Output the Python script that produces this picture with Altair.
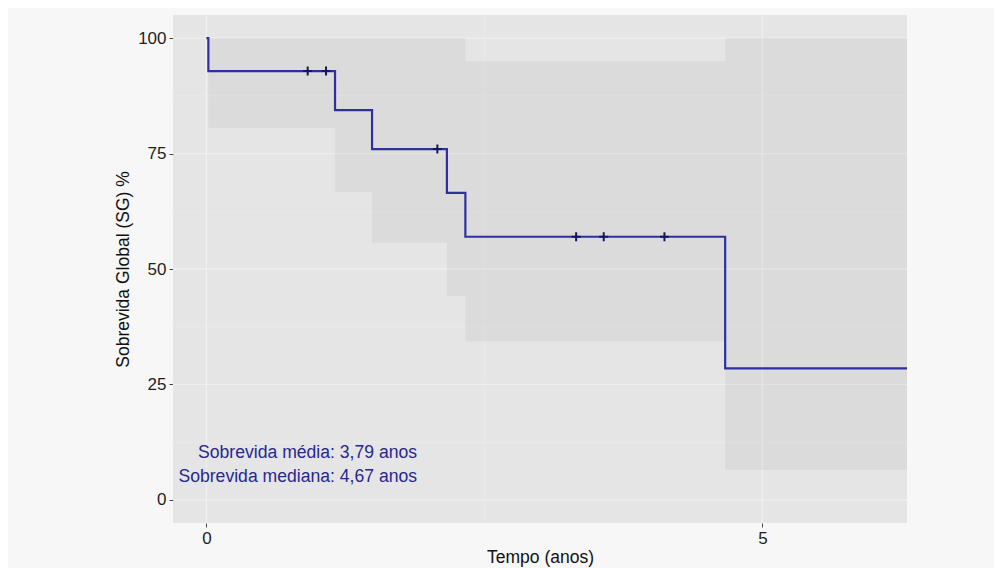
import altair as alt
import pandas as pd

# Kaplan-Meier estimate (%), step-after
km_time = [0, 0.018, 1.157, 1.49, 2.163, 2.329, 4.665, 6.3]
km_surv = [100, 92.86, 84.42, 75.97, 66.48, 56.98, 28.49, 28.49]

# confidence band
ci_time = [0.018, 1.157, 1.49, 2.163, 2.329, 4.665, 6.3]
ci_lower = [80.6, 66.7, 55.7, 44.2, 34.3, 6.5, 6.5]
ci_upper = [100, 100, 100, 100, 95.0, 100, 100]

# censored observations
cens_time = [0.911, 1.076, 2.077, 3.325, 3.573, 4.119]
cens_surv = [92.86, 92.86, 75.97, 56.98, 56.98, 56.98]

x_ticks = [0, 5]
y_ticks = [0, 25, 50, 75, 100]
x_minor = [2.5]
y_minor = [12.5, 37.5, 62.5, 87.5]

labels = ["Sobrevida média: 3,79 anos", "Sobrevida mediana: 4,67 anos"]
label_x = [1.895, 1.895]
label_y = [10.25, 4.86]

FONT = "Liberation Sans"
LINE = "#2f2fa0"
TEXT = "#28288e"

xs = alt.Scale(domain=[-0.3, 6.3], nice=False, zero=False)
ys = alt.Scale(domain=[-5, 105], nice=False, zero=False)
xax = alt.Axis(values=x_ticks, format="d", title="Tempo (anos)", titlePadding=2)
yax = alt.Axis(values=y_ticks, format="d", title="Sobrevida Global (SG) %", titlePadding=5)

km = pd.DataFrame({"t": km_time, "s": km_surv})
ci = pd.DataFrame({"t": ci_time, "lo": ci_lower, "hi": ci_upper})
cens = pd.DataFrame({"t": cens_time, "s": cens_surv})
lab = pd.DataFrame({"x": label_x, "y": label_y, "txt": labels})

band = alt.Chart(ci).mark_area(
    interpolate="step-after", color="black", opacity=0.045, clip=True
).encode(
    x=alt.X("t:Q", scale=xs, axis=xax),
    y=alt.Y("lo:Q", scale=ys, axis=yax),
    y2="hi:Q",
)

grid_y_major = alt.Chart(pd.DataFrame({"v": y_ticks})).mark_rule(
    color="#efefef", strokeWidth=1.3
).encode(y=alt.Y("v:Q", scale=ys, axis=yax))
grid_y_minor = alt.Chart(pd.DataFrame({"v": y_minor})).mark_rule(
    color="#ebebeb", strokeWidth=0.8
).encode(y=alt.Y("v:Q", scale=ys, axis=yax))
grid_x_major = alt.Chart(pd.DataFrame({"v": x_ticks})).mark_rule(
    color="#efefef", strokeWidth=1.3
).encode(x=alt.X("v:Q", scale=xs, axis=xax))
grid_x_minor = alt.Chart(pd.DataFrame({"v": x_minor})).mark_rule(
    color="#ebebeb", strokeWidth=0.8
).encode(x=alt.X("v:Q", scale=xs, axis=xax))

line = alt.Chart(km).mark_line(
    interpolate="step-after", color=LINE, strokeWidth=2.2, clip=True
).encode(
    x=alt.X("t:Q", scale=xs, axis=xax),
    y=alt.Y("s:Q", scale=ys, axis=yax),
)

marks = alt.Chart(cens).mark_point(
    shape="M-1,0L1,0M0,-1L0,1", filled=False, size=80, strokeWidth=2,
    color="#16165e", opacity=1
).encode(
    x=alt.X("t:Q", scale=xs, axis=xax),
    y=alt.Y("s:Q", scale=ys, axis=yax),
)

text = alt.Chart(lab).mark_text(
    align="right", baseline="middle", fontSize=17.6, font=FONT, color=TEXT
).encode(
    x=alt.X("x:Q", scale=xs, axis=xax),
    y=alt.Y("y:Q", scale=ys, axis=yax),
    text="txt:N",
)

chart = alt.layer(
    grid_y_minor, grid_x_minor, grid_y_major, grid_x_major, band, line, marks, text
).properties(
    width=734,
    height=508,
    autosize=alt.AutoSizeParams(type="none"),
    padding={"left": 165, "top": 7, "right": 87, "bottom": 45},
    background="#f7f7f7",
).configure_view(
    fill="#e5e5e5", stroke=None
).configure_axis(
    labelFont=FONT, labelFontSize=17, labelColor="#1e1e1e",
    titleFont=FONT, titleFontSize=17.5, titleFontWeight="normal", titleColor="#111111",
    tickColor="#444444", tickSize=4, tickWidth=1, domain=False, grid=False,
    labelPadding=3,
)

chart.save("out.html", embed_options={"renderer": "svg", "actions": False})
